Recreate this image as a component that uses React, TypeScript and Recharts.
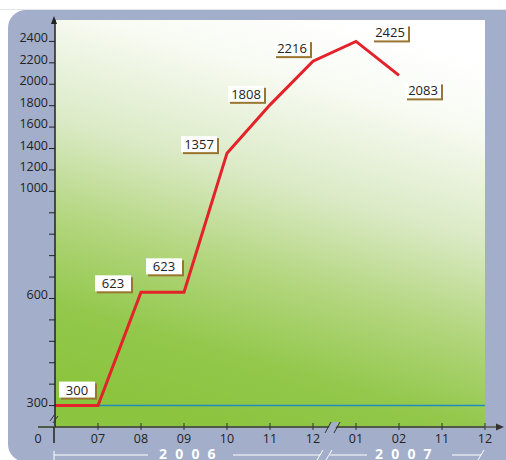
import React from 'react'
import {
  ComposedChart,
  Line,
  XAxis,
  YAxis,
  CartesianGrid,
  ReferenceLine,
  LabelList
} from 'recharts'

// month ticks: index 0 is the origin, then 2006-07 .. 2006-12, 2007-01, 02, 11, 12
const months = ['0', '07', '08', '09', '10', '11', '12', '01', '02', '11', '12']
const subscribers: (number | null)[] = [300, 300, 623, 623, 1357, 1808, 2216, 2425, 2083, null, null]
const yLabelValues = [300, 600, 1000, 1200, 1400, 1600, 1800, 2000, 2200, 2400]
const baseline = 300
const years = ['2006', '2007']

// broken y axis: real value -> evenly spaced tick steps
const breakValues = [0, 300, 600, 1000, 2400]
const breakSteps = [0, 1, 6, 11, 18]

function toStep(v: number) {
  for (let i = 1; i < breakValues.length; i++) {
    if (v <= breakValues[i]) {
      const t = (v - breakValues[i - 1]) / (breakValues[i] - breakValues[i - 1])
      return breakSteps[i - 1] + t * (breakSteps[i] - breakSteps[i - 1])
    }
  }
  return breakSteps[breakSteps.length - 1]
}

function fromStep(s: number) {
  for (let i = 1; i < breakSteps.length; i++) {
    if (s <= breakSteps[i]) {
      const t = (s - breakSteps[i - 1]) / (breakSteps[i] - breakSteps[i - 1])
      return breakValues[i - 1] + t * (breakValues[i] - breakValues[i - 1])
    }
  }
  return breakValues[breakValues.length - 1]
}

const data = months.map((m, i) => ({
  i,
  month: m,
  value: subscribers[i],
  step: subscribers[i] == null ? null : toStep(subscribers[i] as number)
}))

const stepTicks = Array.from({ length: 19 }, (_, k) => k)

// where each value box sits relative to its point
const labelOffsets: ([number, number] | null)[] = [
  null, [-39, -24], [-46, -17], [-38, -34], [-46, -17], [-42, -19], [-39, -21], [16, -17], [6, 7]
]

const FONT = '"Open Sans", "DejaVu Sans", sans-serif'
const PANEL = '#a3aecb'

function ValueBox(props: any) {
  const { x, y, value, index } = props
  const off = labelOffsets[index]
  if (!off || value == null) return null
  const x0 = x + off[0]
  const y0 = y + off[1]
  return (
    <g>
      <rect x={x0 + 2} y={y0 + 2} width={36} height={16} fill="#9a7530" />
      <rect x={x0} y={y0} width={36} height={16} fill="#ffffff" />
      <text x={x0 + 18} y={y0 + 13} textAnchor="middle" fontSize={13} fontFamily={FONT} fill="#222">
        {value}
      </text>
    </g>
  )
}

function StepTick(props: any) {
  const { x, y, payload } = props
  const v = Math.round(fromStep(payload.value))
  if (!yLabelValues.includes(v)) return null
  return (
    <text x={x} y={y + 1} textAnchor="end" fontSize={12.5} fontFamily={FONT} fill="#222">
      {v}
    </text>
  )
}

function MonthTick(props: any) {
  const { x, y, payload } = props
  const i = payload.value
  if (i === 0) {
    return (
      <text x={x - 17} y={y + 16} textAnchor="middle" fontSize={12.5} fontFamily={FONT} fill="#222">
        {months[i]}
      </text>
    )
  }
  return (
    <g>
      <line x1={x} x2={x} y1={y - 4} y2={y + 3} stroke="#333" strokeWidth={1} />
      <text x={x} y={y + 16} textAnchor="middle" fontSize={12.5} fontFamily={FONT} fill="#222">
        {months[i]}
      </text>
    </g>
  )
}

function Decorations() {
  return (
    <svg width={506} height={460} style={{ position: 'absolute', left: 0, top: 0, pointerEvents: 'none' }}>
      {/* axis arrows and extensions */}
      <line x1={38} x2={55} y1={427} y2={427} stroke="#505848" strokeWidth={2} />
      <line x1={485} x2={499} y1={427} y2={427} stroke="#505848" strokeWidth={1.5} />
      <polygon points="504,427 496,423.5 496,430.5" fill="#333" />
      <line x1={54} x2={54} y1={427} y2={443} stroke="#222" strokeWidth={1.5} />
      <line x1={54} x2={54} y1={20} y2={24} stroke="#222" strokeWidth={1.5} />
      <polygon points="54,16 51,24 57,24" fill="#222" />
      {/* y axis break */}
      <line x1={50} x2={55} y1={421} y2={414} stroke="#333" strokeWidth={1} />
      <line x1={53} x2={58} y1={423} y2={416} stroke="#333" strokeWidth={1} />
      {/* x axis break */}
      <polygon points="326,432 332,422 339,422 333,432" fill={PANEL} />
      <line x1={325} x2={331} y1={433} y2={422} stroke="#333" strokeWidth={1} />
      <line x1={334} x2={340} y1={433} y2={422} stroke="#333" strokeWidth={1} />
      {/* year brackets */}
      <g stroke="#ffffff" strokeWidth={1} fill="none">
        <line x1={54} x2={54} y1={451} y2={460} />
        <line x1={54} x2={148} y1={455} y2={455} />
        <line x1={233} x2={320} y1={455} y2={455} />
        <line x1={317} x2={323} y1={460} y2={450} />
        <line x1={326} x2={332} y1={460} y2={450} />
        <line x1={330} x2={367} y1={455} y2={455} />
        <line x1={452} x2={481} y1={455} y2={455} />
        <line x1={478} x2={484} y1={460} y2={450} />
      </g>
      <text x={159} y={459} fontSize={14} fontWeight="bold" letterSpacing={8.2} fontFamily={FONT} fill="#ffffff">
        {years[0]}
      </text>
      <text x={375} y={459} fontSize={14} fontWeight="bold" letterSpacing={8.2} fontFamily={FONT} fill="#ffffff">
        {years[1]}
      </text>
    </svg>
  )
}

export default function App() {
  return (
    <div style={{ position: 'absolute', left: 0, top: 0, width: 506, height: 460, background: '#ffffff', overflow: 'hidden' }}>
      <svg width={506} height={460} style={{ position: 'absolute', left: 0, top: 0 }}>
        <line x1={0} x2={506} y1={9.5} y2={9.5} stroke="#e2e4e8" strokeWidth={1} />
        <rect x={8} y={10} width={520} height={452} rx={18} fill={PANEL} />
      </svg>
      <div style={{ position: 'absolute', left: 0, top: 0 }}>
        <ComposedChart width={506} height={460} data={data} margin={{ top: 20, right: 21, bottom: 0, left: 0 }}>
          <defs>
            <linearGradient id="plotBg" x1="0.65" y1="0" x2="0.35" y2="1">
              <stop offset="0" stopColor="#ffffff" />
              <stop offset="0.15" stopColor="#f8fbf3" />
              <stop offset="0.4" stopColor="#dbeac6" />
              <stop offset="0.62" stopColor="#b3d67e" />
              <stop offset="0.82" stopColor="#93c84c" />
              <stop offset="1" stopColor="#8bc43e" />
            </linearGradient>
          </defs>
          <CartesianGrid horizontal={false} vertical={false} fill="url(#plotBg)" stroke="none" />
          <XAxis
            dataKey="i"
            type="number"
            domain={[0, 10]}
            ticks={months.map((_, i) => i)}
            height={33}
            tickSize={0}
            tickMargin={0}
            tickLine={false}
            axisLine={{ stroke: '#505848', strokeWidth: 2 }}
            tick={<MonthTick />}
            interval={0}
          />
          <YAxis
            type="number"
            domain={[0, 19]}
            ticks={stepTicks}
            width={55}
            tickSize={6}
            tickMargin={1}
            tickLine={{ stroke: '#222' }}
            axisLine={{ stroke: '#222', strokeWidth: 1.5 }}
            tick={<StepTick />}
            interval={0}
          />
          <ReferenceLine y={toStep(baseline)} stroke="#1f8ac0" strokeWidth={1.5} />
          <Line
            type="linear"
            dataKey="step"
            stroke="#e4222a"
            strokeWidth={3}
            dot={false}
            isAnimationActive={false}
            connectNulls={false}
          >
            <LabelList dataKey="value" content={<ValueBox />} />
          </Line>
        </ComposedChart>
      </div>
      <Decorations />
    </div>
  )
}
